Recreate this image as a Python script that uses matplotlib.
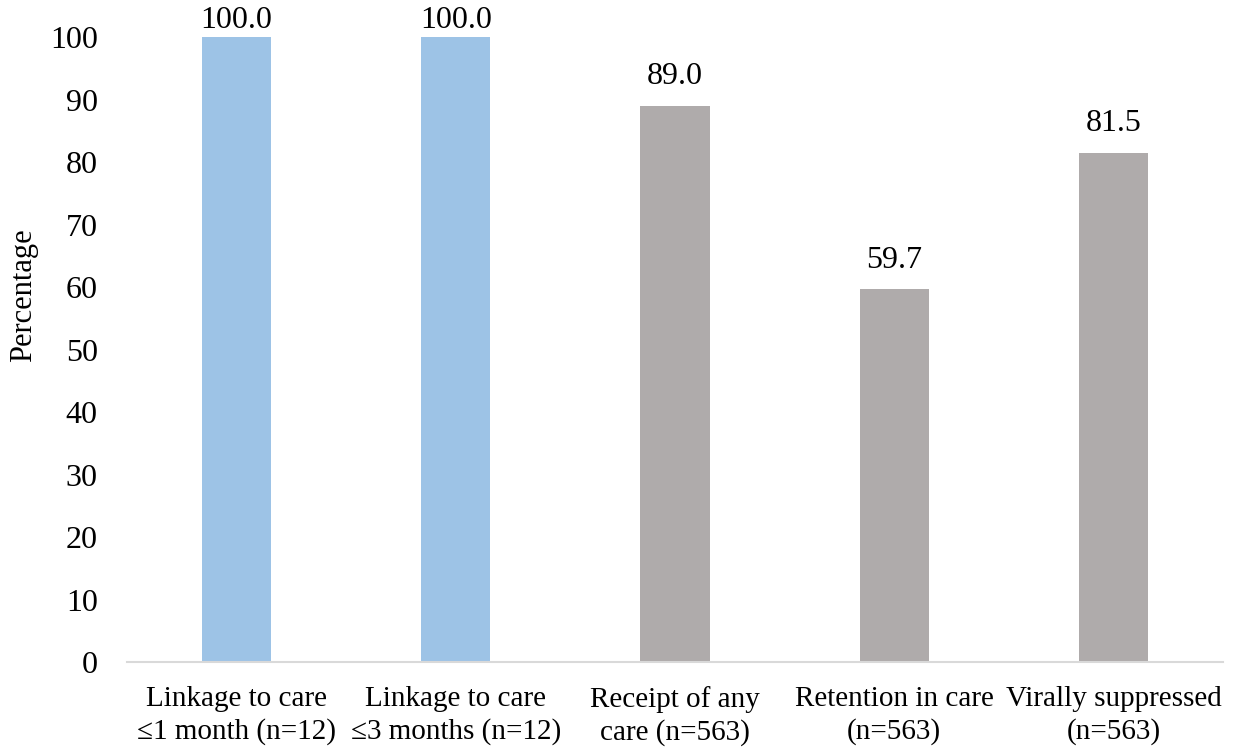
import matplotlib
matplotlib.use("Agg")
from matplotlib import pyplot as plt

# Data
categories = ["Linkage to care\n\u22641 month (n=12)", "Linkage to care\n\u22643 months (n=12)",
              "Receipt of any\ncare (n=563)", "Retention in care\n(n=563)", "Virally suppressed\n(n=563)"]
values = [100.0, 100.0, 89.0, 59.7, 81.5]
colors = ["#9DC3E6", "#9DC3E6", "#AFABAB", "#AFABAB", "#AFABAB"]
yticks = list(range(0, 101, 10))

plt.rcParams['font.family'] = ['Liberation Serif', 'DejaVu Serif']

fig = plt.figure(figsize=(12.38, 7.51), dpi=100)
ax = fig.add_axes([0.1026, 0.1185, 0.8853, 0.8322])

x = list(range(len(categories)))
ax.bar(x, values, width=0.315, color=colors)
for xi, v in zip(x, values):
    # labels that would run off the top get pinned just above the plot, as in Excel
    ax.text(xi, min(v + 2.3, 100.4), "{:.1f}".format(v), ha='center', va='bottom', fontsize=23)

ax.set_xlim(-0.5, len(categories) - 0.5)
ax.set_ylim(0, 100)
ax.set_yticks(yticks)
ax.set_yticklabels([str(t) for t in yticks], fontsize=23)
ax.set_xticks(x)
ax.set_xticklabels(categories, fontsize=21, linespacing=1.3)
ax.tick_params(axis='both', length=0)
ax.tick_params(axis='x', pad=17)
ax.tick_params(axis='y', pad=21)
ax.set_ylabel("Percentage", fontsize=22)
ax.yaxis.set_label_coords(-0.081, 0.587)

for side in ['top', 'right', 'left']:
    ax.spines[side].set_visible(False)
ax.spines['bottom'].set_color('#D9D9D9')
ax.spines['bottom'].set_linewidth(1.5)

fig.savefig("out.png", dpi=100)
